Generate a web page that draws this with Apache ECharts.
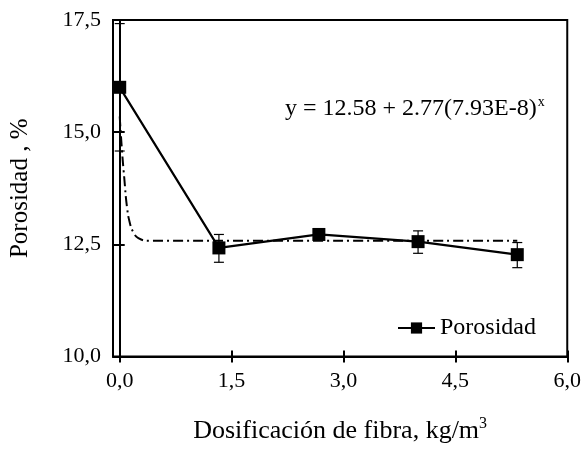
<!DOCTYPE html>
<html><head><meta charset="utf-8">
<script src="https://cdn.jsdelivr.net/npm/echarts@6/dist/echarts.min.js"></script>
<style>html,body{margin:0;padding:0;background:#fff}#c{width:584px;height:449px}</style>
</head><body><div id="c"></div>
<script>
const dosage = [0, 1.33, 2.67, 4.0, 5.33];
const porosity = [16.0, 12.42, 12.72, 12.56, 12.27];
const errLow = [14.58, 12.10, 12.60, 12.30, 11.98];
const errHigh = [17.42, 12.72, 12.85, 12.80, 12.54];
const fitX = [0, 0.03, 0.06, 0.1, 0.14, 0.18, 0.25, 0.4, 5.33];
const fitY = [15.35, 14.6, 14.0, 13.3, 12.95, 12.78, 12.64, 12.58, 12.58];
const xTicks = [0, 1.5, 3, 4.5, 6];
const seriesName = 'Porosidad';
const equation = 'y = 12.58 + 2.77(7.93E-8)';

const FONT = '"Liberation Serif", "DejaVu Serif", serif';
const fmt = v => Number(v).toFixed(1).replace('.', ',');

const chart = echarts.init(document.getElementById('c'));
const xBase = {type: 'value', min: -0.09, max: 6, splitLine: {show: false}};
const yBase = {type: 'value', min: 10, max: 17.5, interval: 2.5, splitLine: {show: false}};
chart.setOption({
  animation: false,
  backgroundColor: '#fff',
  grid: {left: 110, right: 16, top: 20, bottom: 88, show: true, borderColor: '#000', borderWidth: 2},
  xAxis: [
    Object.assign({}, xBase, {
      position: 'bottom',
      axisLine: {lineStyle: {color: '#000', width: 2}},
      axisTick: {show: true, length: 6, inside: false, customValues: xTicks, lineStyle: {color: '#000', width: 2}},
      axisLabel: {customValues: xTicks, formatter: fmt, color: '#000', fontFamily: FONT, fontSize: 22, margin: 14},
      name: 'Dosificación de fibra, kg/m{sup|3}',
      nameLocation: 'middle', nameGap: 59,
      nameTextStyle: {color: '#000', fontFamily: FONT, fontSize: 26,
        rich: {sup: {fontSize: 16, fontFamily: FONT, color: '#000', verticalAlign: 'bottom', padding: [0, 0, 15, 0]}}}
    }),
    Object.assign({}, xBase, {
      position: 'bottom',
      axisLine: {show: false},
      axisTick: {show: true, length: 6, inside: true, customValues: xTicks, lineStyle: {color: '#000', width: 2}},
      axisLabel: {show: false}
    })
  ],
  yAxis: [
    Object.assign({}, yBase, {
      axisLine: {show: true, lineStyle: {color: '#000', width: 2}},
      axisTick: {show: true, length: 7, lineStyle: {color: '#000', width: 2}},
      axisLabel: {formatter: fmt, color: '#000', fontFamily: FONT, fontSize: 22, margin: 12},
      name: 'Porosidad , %', nameLocation: 'middle', nameGap: 80, nameRotate: 90,
      nameTextStyle: {color: '#000', fontFamily: FONT, fontSize: 25}
    }),
    Object.assign({}, yBase, {
      position: 'left',
      axisLine: {show: false},
      axisTick: {show: true, length: 5, inside: true, lineStyle: {color: '#000', width: 2}},
      axisLabel: {show: false}
    })
  ],
  legend: {
    data: [seriesName], left: 397, top: 316, padding: 0, itemWidth: 37, itemHeight: 14,
    textStyle: {color: '#000', fontFamily: FONT, fontSize: 24}
  },
  graphic: [{
    type: 'text', left: 285, top: 95,
    style: {text: equation + '{sup|x}', fill: '#000', font: '24px ' + FONT,
      rich: {sup: {fontSize: 14, fontFamily: FONT, fill: '#000', verticalAlign: 'bottom', padding: [0, 0, 14, 1]}}}
  }],
  series: [
    {
      name: 'fit', type: 'line', data: fitX.map((x, i) => [x, fitY[i]]),
      symbol: 'none', smooth: true, z: 2,
      lineStyle: {color: '#000', width: 2, type: [10, 4, 2, 4]}
    },
    {
      name: 'err', type: 'custom', z: 3,
      data: dosage.map((x, i) => [x, errLow[i], errHigh[i]]),
      renderItem: function (params, api) {
        const lo = api.coord([api.value(0), api.value(1)]);
        const hi = api.coord([api.value(0), api.value(2)]);
        const w = 5;
        const st = {stroke: '#000', lineWidth: 1.2};
        return {type: 'group', children: [
          {type: 'line', shape: {x1: lo[0], y1: lo[1], x2: hi[0], y2: hi[1]}, style: st},
          {type: 'line', shape: {x1: lo[0] - w, y1: lo[1], x2: lo[0] + w, y2: lo[1]}, style: st},
          {type: 'line', shape: {x1: hi[0] - w, y1: hi[1], x2: hi[0] + w, y2: hi[1]}, style: st}
        ]};
      }
    },
    {
      name: seriesName, type: 'line', data: dosage.map((x, i) => [x, porosity[i]]),
      symbol: 'rect', symbolSize: 13, z: 4,
      itemStyle: {color: '#000'}, lineStyle: {color: '#000', width: 2.2}
    }
  ]
});
</script></body></html>
